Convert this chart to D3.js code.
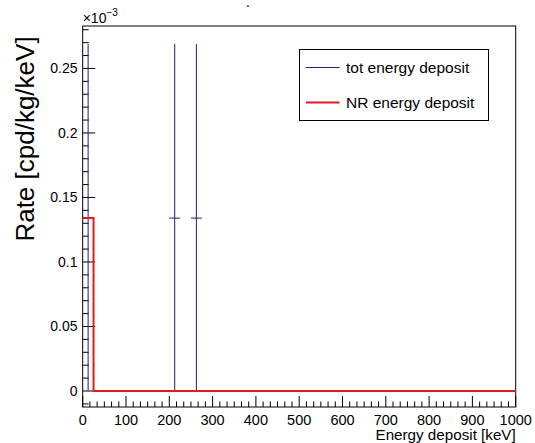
<!DOCTYPE html>
<html>
<head>
<meta charset="utf-8">
<script src="https://cdn.jsdelivr.net/npm/d3@7"></script>
<style>
  html, body { margin: 0; padding: 0; background: #fff; }
  svg { display: block; }
  text { font-family: "Liberation Sans", Arial, Helvetica, sans-serif; fill: #000; }
</style>
</head>
<body>
<svg id="chart" width="535" height="443"></svg>
<script>
// Histogram binning (keV)
const binWidth = 25;
const binStarts = d3.range(0, 1000, binWidth);

// "tot energy deposit": filled bins with their statistical errors
const totBinStarts = [0, 200, 250];
const totValues = [0.134, 0.134, 0.134];
const totErrors = [0.135, 0.135, 0.135];

// "NR energy deposit": contents of every bin
const nrValues = binStarts.map((s, i) => (i === 0 ? 0.134 : 0));

// Axis tick values and labels
const xMajorTicks = [0, 100, 200, 300, 400, 500, 600, 700, 800, 900, 1000];
const yMajorTicks = [0, 0.05, 0.1, 0.15, 0.2, 0.25];
const yTickLabels = ["0", "0.05", "0.1", "0.15", "0.2", "0.25"];

const legendLabels = ["tot energy deposit", "NR energy deposit"];
const colors = { tot: "#1e1e82", nr: "#e3191c" };

const svg = d3.select("#chart");
const frameL = 82.7, frameR = 515.7, frameT = 26, frameB = 407;

const x = d3.scaleLinear().domain([0, 1000]).range([frameL, frameR]);
const y = d3.scaleLinear().domain([-0.0124, 0.2829]).range([frameB, frameT]);

// Frame
svg.append("rect")
  .attr("x", frameL).attr("y", frameT)
  .attr("width", frameR - frameL).attr("height", frameB - frameT)
  .attr("fill", "none").attr("stroke", "#000").attr("stroke-width", 1);

// X axis ticks (drawn inward from the bottom edge)
const xMinor = [];
for (let i = 0; i < 10; i++) for (let j = 1; j < 6; j++) xMinor.push(i * 100 + j * 100 / 6);
const tickG = svg.append("g").attr("stroke", "#000").attr("stroke-width", 1);
xMajorTicks.forEach(v => tickG.append("line")
  .attr("x1", x(v)).attr("x2", x(v)).attr("y1", frameB).attr("y2", frameB - 11));
xMinor.forEach(v => tickG.append("line")
  .attr("x1", x(v)).attr("x2", x(v)).attr("y1", frameB).attr("y2", frameB - 5.5));

// Y axis ticks (drawn inward from the left edge)
const yMinor = d3.range(-1, 29).map(k => k / 100).filter(v => Math.round(v * 100) % 5 !== 0);
yMajorTicks.forEach(v => tickG.append("line")
  .attr("x1", frameL).attr("x2", frameL + 12.5).attr("y1", y(v)).attr("y2", y(v)));
yMinor.forEach(v => tickG.append("line")
  .attr("x1", frameL).attr("x2", frameL + 6).attr("y1", y(v)).attr("y2", y(v)));

// Tick labels
svg.append("g").selectAll("text").data(xMajorTicks).join("text")
  .attr("x", d => x(d)).attr("y", 424.5)
  .attr("text-anchor", "middle").attr("font-size", 14.5)
  .text(d => d);
svg.append("g").selectAll("text").data(yMajorTicks).join("text")
  .attr("x", 77.5).attr("y", d => y(d) + 5)
  .attr("text-anchor", "end").attr("font-size", 14)
  .text((d, i) => yTickLabels[i]);

// Exponent on the y axis
const expo = svg.append("text").attr("x", frameL).attr("y", 23).attr("font-size", 14);
expo.append("tspan").text("\u00d710");
expo.append("tspan").attr("dy", -7).attr("font-size", 10).text("\u22123");

// Axis titles
svg.append("text")
  .attr("x", frameR).attr("y", 439.5)
  .attr("text-anchor", "end").attr("font-size", 15.2)
  .text("Energy deposit [keV]");
svg.append("text")
  .attr("transform", "translate(33.5,139) rotate(-90)")
  .attr("text-anchor", "middle").attr("font-size", 26)
  .text("Rate [cpd/kg/keV]");

// Title
svg.append("text").attr("x", 246.5).attr("y", 9.5).attr("font-size", 10)
  .attr("font-weight", "bold").text("\u00b7");

// tot energy deposit: error bars (vertical = error, horizontal = bin width)
const errG = svg.append("g").attr("stroke", colors.tot).attr("stroke-width", 1).attr("fill", "none");
totBinStarts.forEach((s, i) => {
  const cx = x(s + binWidth / 2);
  const cy = y(totValues[i]);
  errG.append("line").attr("x1", cx).attr("x2", cx)
    .attr("y1", y(Math.max(0, totValues[i] - totErrors[i]))).attr("y2", y(totValues[i] + totErrors[i]));
  errG.append("line").attr("x1", x(s)).attr("x2", x(s + binWidth)).attr("y1", cy).attr("y2", cy);
});

// NR energy deposit: step outline
const steps = [];
binStarts.forEach((s, i) => {
  steps.push([s, nrValues[i]]);
  steps.push([s + binWidth, nrValues[i]]);
});
svg.append("path")
  .datum(steps)
  .attr("fill", "none").attr("stroke", colors.nr).attr("stroke-width", 2)
  .attr("d", d3.line().x(d => x(d[0])).y(d => y(d[1])));

// Legend
const lg = svg.append("g");
lg.append("rect").attr("x", 299.5).attr("y", 49.5).attr("width", 189).attr("height", 71)
  .attr("fill", "#fff").attr("stroke", "#000").attr("stroke-width", 1);
const legendItems = [
  { label: legendLabels[0], color: colors.tot, width: 1, cy: 67.5 },
  { label: legendLabels[1], color: colors.nr, width: 2, cy: 102.5 }
];
legendItems.forEach(it => {
  lg.append("line").attr("x1", 306).attr("x2", 339.5).attr("y1", it.cy).attr("y2", it.cy)
    .attr("stroke", it.color).attr("stroke-width", it.width);
  lg.append("text").attr("x", 346).attr("y", it.cy + 5.3).attr("font-size", 15.5).text(it.label);
});
</script>
</body>
</html>
